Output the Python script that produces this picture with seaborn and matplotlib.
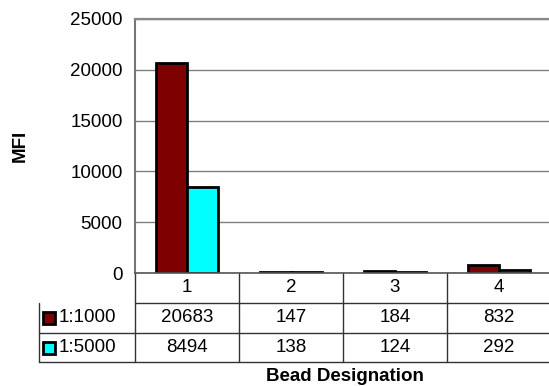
import matplotlib
matplotlib.use('Agg')
import matplotlib.pyplot as plt
import pandas as pd
import seaborn as sns
from matplotlib.patches import Rectangle

BEADS = ['1', '2', '3', '4']
SERIES = ['1:1000', '1:5000']
MFI_1000 = [20683, 147, 184, 832]
MFI_5000 = [8494, 138, 124, 292]
COLORS = ['#7f0000', '#00ffff']
Y_TICKS = [0, 5000, 10000, 15000, 20000, 25000]

W, H = 549, 386
FONT = ['Liberation Sans', 'DejaVu Sans']
FS = 13.5

sns.set_style('white')
plt.rcParams['font.family'] = FONT
plt.rcParams['text.color'] = 'black'
plt.rcParams['ytick.labelcolor'] = 'black'

df = pd.DataFrame({
    'bead': BEADS * 2,
    'series': [SERIES[0]] * 4 + [SERIES[1]] * 4,
    'mfi': MFI_1000 + MFI_5000,
})

fig = plt.figure(figsize=(W / 100, H / 100), dpi=100)
# axes placed in pixel terms: left 135, right ~551, top 19, bottom 273
ax = fig.add_axes([135 / W, 1 - 273 / H, 416 / W, 254 / H])

sns.barplot(data=df, x='bead', y='mfi', hue='series', palette=COLORS,
            saturation=1, width=0.59, edgecolor='black', linewidth=2,
            ax=ax, legend=False)

ax.set_ylim(0, 25000)
ax.set_xlim(-0.5, 3.5)
ax.set_yticks(Y_TICKS)
ax.set_yticklabels([str(v) for v in Y_TICKS], fontsize=FS)
ax.tick_params(axis='y', direction='out', length=6, width=1, color='#555555',
               labelcolor='black', pad=3)
ax.tick_params(axis='x', length=0, labelbottom=False)
ax.yaxis.grid(True, color='#808080', linewidth=1)
ax.set_axisbelow(True)
ax.spines['right'].set_visible(False)
ax.spines['top'].set_color('#888888')
ax.spines['top'].set_linewidth(1.6)
ax.spines['left'].set_color('#777777')
ax.spines['left'].set_linewidth(1.5)
ax.spines['bottom'].set_color('#555555')
ax.spines['bottom'].set_linewidth(1.2)
ax.set_xlabel('')
ax.set_ylabel('')

# data table under the plot
tr = ax.get_xaxis_transform()
px = 254.0


def yax(ypix):
    return (273 - ypix) / px


row_lines = [303, 333, 362]
left_x = -0.5 - 96 / 104
line_kw = dict(color='#333333', linewidth=1, transform=tr, clip_on=False)
ax.plot([-0.5, 3.5], [yax(303)] * 2, **line_kw)
for yp in row_lines[1:]:
    ax.plot([left_x, 3.5], [yax(yp)] * 2, **line_kw)
ax.plot([left_x, left_x], [yax(303), yax(362)], **line_kw)
for xb in [-0.5, 0.5, 1.5, 2.5, 3.5]:
    ax.plot([xb, xb], [0, yax(362)], **line_kw)

for i, b in enumerate(BEADS):
    ax.text(i, yax(288), b, ha='center', va='center', fontsize=FS, transform=tr)
    ax.text(i, yax(318), str(MFI_1000[i]), ha='center', va='center', fontsize=FS, transform=tr)
    ax.text(i, yax(347.5), str(MFI_5000[i]), ha='center', va='center', fontsize=FS, transform=tr)

for label, col, yc in [(SERIES[0], COLORS[0], 318), (SERIES[1], COLORS[1], 347.5)]:
    fig.patches.append(Rectangle((43 / W, 1 - (yc + 6) / H), 12 / W, 12 / H,
                                 facecolor=col, edgecolor='black', linewidth=2,
                                 transform=fig.transFigure))
    fig.text(59 / W, 1 - yc / H, label, ha='left', va='center', fontsize=FS)

fig.text(20 / W, 1 - 146 / H, 'MFI', rotation=90, ha='center', va='center',
         fontsize=FS, fontweight='bold')
fig.text(345 / W, 1 - 381 / H, 'Bead Designation', ha='center', va='baseline',
         fontsize=FS, fontweight='bold')

fig.savefig('out.png', dpi=100)
